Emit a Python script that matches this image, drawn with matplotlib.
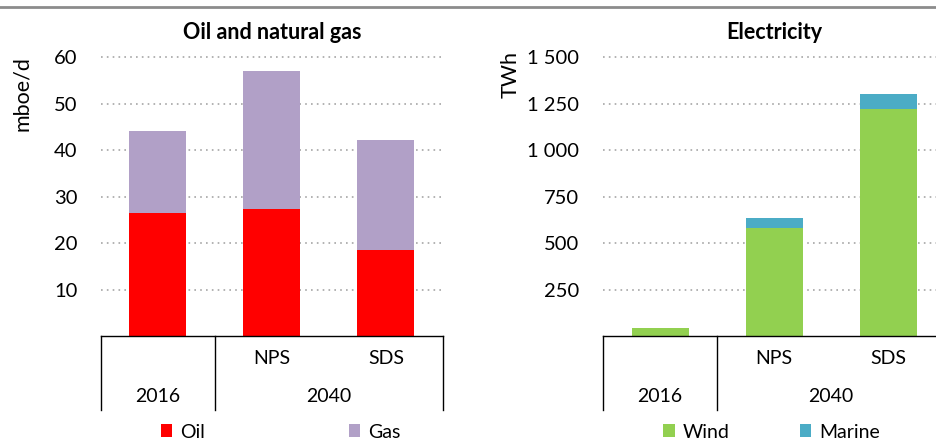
import matplotlib
matplotlib.use("Agg")
import matplotlib.pyplot as plt
from matplotlib.lines import Line2D
from matplotlib.ticker import FuncFormatter

plt.rcParams['font.family'] = ['Lato', 'DejaVu Sans']

# data
scenarios = ["", "NPS", "SDS"]
years = ["2016", "2040"]
oil = [26.4, 27.3, 18.6]
gas = [17.7, 29.7, 23.6]
wind = [42, 580, 1221]
marine = [0, 54, 80]

oil_ticks = [10, 20, 30, 40, 50, 60]
elec_ticks = [250, 500, 750, 1000, 1250, 1500]

W, H = 937, 443
fig = plt.figure(figsize=(W / 100, H / 100), dpi=100)

# top rule
fig.add_artist(Line2D([0, 1], [1 - 7 / H, 1 - 7 / H], color="#8c8c8c", lw=2))

base_px = 336
top_px = 52.6
box_bottom_px = 410


def make_axes(left_px, right_px):
    return fig.add_axes([left_px / W, (H - base_px) / H,
                         (right_px - left_px) / W, (base_px - top_px) / H])


def style(ax, ymax, ticks, title, fmt):
    ax.set_xlim(-0.5, 2.5)
    ax.set_ylim(0, ymax)
    ax.set_yticks(ticks)
    ax.yaxis.set_major_formatter(FuncFormatter(fmt))
    ax.tick_params(axis="y", length=0, labelsize=14.5, pad=17, colors="black")
    ax.set_xticks([])
    for s in ["top", "right", "left"]:
        ax.spines[s].set_visible(False)
    ax.spines["bottom"].set_color("black")
    ax.spines["bottom"].set_linewidth(1)
    ax.yaxis.grid(True, linestyle=(0, (1, 2.5)), color="#a6a6a6", lw=1.2)
    ax.set_axisbelow(True)
    ax.set_title(title, fontsize=15.5, fontweight="bold", pad=10)

    # category box under the axis
    frac = -(box_bottom_px - base_px) / (base_px - top_px)
    tr = ax.get_xaxis_transform()
    for x in [-0.5, 0.5, 2.5]:
        ax.plot([x, x], [0, frac], color="black", lw=1, transform=tr, clip_on=False)
    row1 = -(358 - base_px) / (base_px - top_px)
    row2 = -(396 - base_px) / (base_px - top_px)
    for i, s in enumerate(scenarios):
        if s:
            ax.text(i, row1, s, transform=tr, ha="center", va="center", fontsize=14)
    ax.text(0, row2, years[0], transform=tr, ha="center", va="center", fontsize=14)
    ax.text(1.5, row2, years[1], transform=tr, ha="center", va="center", fontsize=14)


def thousands(v, pos):
    return "{:,.0f}".format(v).replace(",", " ")


x = range(len(scenarios))
leg_y = -(432 - base_px) / (base_px - top_px)

ax1 = make_axes(101, 443)
ax1.bar(x, oil, width=0.5, color="#ff0000", label="Oil")
ax1.bar(x, gas, width=0.5, bottom=oil, color="#b1a0c7", label="Gas")
style(ax1, 61, oil_ticks, "Oil and natural gas", lambda v, p: "%d" % v)
fig.text(22 / W, 1 - 94 / H, "mboe/d", rotation=90, ha="center", va="center", fontsize=15.5)
ax1.legend(loc="center", bbox_to_anchor=(0.525, leg_y),
           ncol=2, frameon=False, fontsize=14, handlelength=0.6, handleheight=0.6,
           handletextpad=0.4, columnspacing=7.4)

ax2 = make_axes(603, 945)
ax2.bar(x, wind, width=0.5, color="#92d050", label="Wind")
ax2.bar(x, marine, width=0.5, bottom=wind, color="#4bacc6", label="Marine")
style(ax2, 1525, elec_ticks, "Electricity", thousands)
fig.text(511 / W, 1 - 75 / H, "TWh", rotation=90, ha="center", va="center", fontsize=15.5)
ax2.legend(loc="center", bbox_to_anchor=(0.493, leg_y),
           ncol=2, frameon=False, fontsize=14, handlelength=0.6, handleheight=0.6,
           handletextpad=0.4, columnspacing=3.6)

fig.savefig("out.png", dpi=100)
